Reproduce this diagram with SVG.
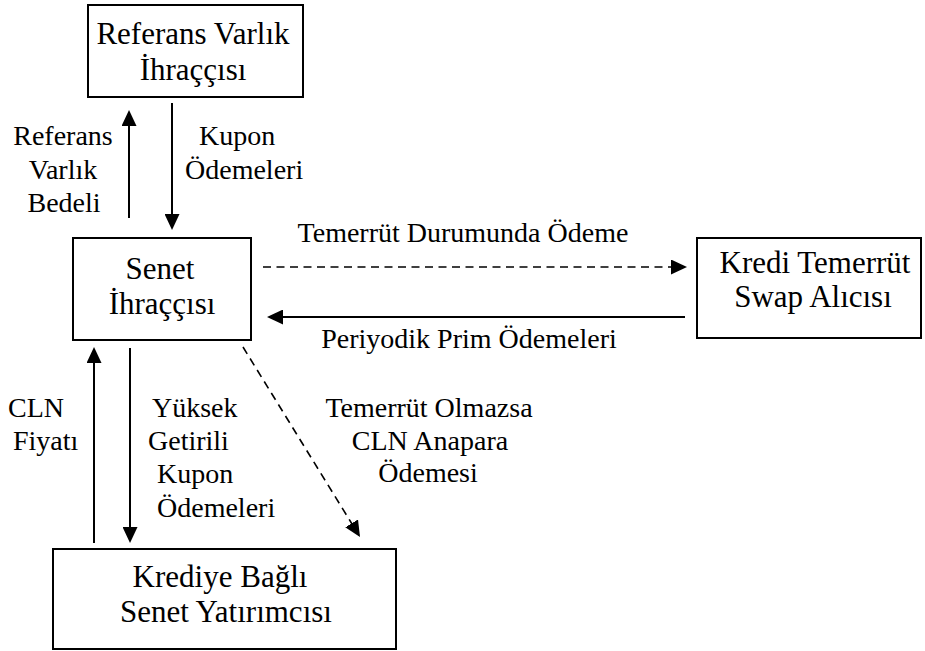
<svg xmlns="http://www.w3.org/2000/svg" width="925" height="651" viewBox="0 0 925 651">
  <style>
    .box { fill: #ffffff; stroke: #000000; stroke-width: 2; }
    .name { font-family: "Liberation Serif", "Times New Roman", serif; font-size: 31px; fill: #000000; text-anchor: middle; }
    .lbl { font-family: "Liberation Serif", "Times New Roman", serif; font-size: 28px; fill: #000000; }
    .mid { text-anchor: middle; }
    .flow { fill: none; stroke: #000000; stroke-width: 2; marker-end: url(#head); }
    .dash { stroke-dasharray: 8 5.5; stroke-width: 1.6; }
  </style>
  <defs>
    <marker id="head" markerUnits="userSpaceOnUse" viewBox="0 0 16 15" markerWidth="16" markerHeight="15" refX="14" refY="7.5" orient="auto">
      <path d="M0,0 L16,7.5 L0,15 Z" fill="#000000" stroke="none"/>
    </marker>
  </defs>

  <!-- parties -->
  <g id="reference-issuer">
    <rect class="box" x="88" y="5" width="215" height="92"/>
    <text class="name" x="193" y="44">Referans Varlık</text>
    <text class="name" x="193" y="80">İhraççısı</text>
  </g>
  <g id="note-issuer">
    <rect class="box" x="73" y="238" width="178" height="102"/>
    <text class="name" x="160" y="279">Senet</text>
    <text class="name" x="162" y="314">İhraççısı</text>
  </g>
  <g id="cds-buyer">
    <rect class="box" x="697" y="238" width="224" height="100"/>
    <text class="name" x="815" y="273">Kredi Temerrüt</text>
    <text class="name" x="813" y="307">Swap Alıcısı</text>
  </g>
  <g id="cln-investor">
    <rect class="box" x="53" y="549" width="343" height="100"/>
    <text class="name" x="220" y="587">Krediye Bağlı</text>
    <text class="name" x="226" y="622">Senet Yatırımcısı</text>
  </g>

  <!-- payment flows -->
  <g id="connectors">
    <path class="flow" d="M129,218 V112"/>
    <path class="flow" d="M172,103 V228"/>
    <path class="flow dash" d="M263,267 H685"/>
    <path class="flow" d="M685,317 H269"/>
    <path class="flow" d="M94,543 V349"/>
    <path class="flow" d="M130,348 V541"/>
    <path class="flow dash" d="M243,347 L358.95,535.3"/>
  </g>

  <!-- flow labels -->
  <g id="labels">
    <text class="lbl mid" x="63" y="145">Referans</text>
    <text class="lbl mid" x="63" y="179">Varlık</text>
    <text class="lbl mid" x="64" y="212">Bedeli</text>

    <text class="lbl" x="199" y="145">Kupon</text>
    <text class="lbl" x="185" y="179">Ödemeleri</text>

    <text class="lbl mid" x="463" y="242">Temerrüt Durumunda Ödeme</text>
    <text class="lbl mid" x="469" y="348">Periyodik Prim Ödemeleri</text>

    <text class="lbl" x="8" y="417">CLN</text>
    <text class="lbl" x="13" y="450">Fiyatı</text>

    <text class="lbl" x="152" y="417">Yüksek</text>
    <text class="lbl" x="148" y="450">Getirili</text>
    <text class="lbl" x="157" y="483">Kupon</text>
    <text class="lbl" x="157" y="517">Ödemeleri</text>

    <text class="lbl mid" x="429" y="417">Temerrüt Olmazsa</text>
    <text class="lbl mid" x="430" y="450">CLN Anapara</text>
    <text class="lbl mid" x="428" y="482">Ödemesi</text>
  </g>
</svg>
